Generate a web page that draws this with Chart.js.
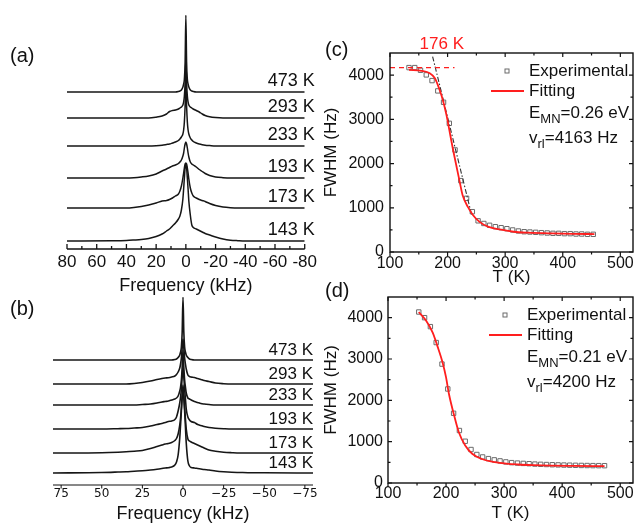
<!DOCTYPE html>
<html>
<head>
<meta charset="utf-8">
<title>NMR linewidth</title>
<script src="https://cdn.jsdelivr.net/npm/chart.js@4.4.0/dist/chart.umd.min.js"></script>
<style>
  body { margin: 0; background: #fff; }
  #wrap { position: relative; width: 638px; height: 525px; overflow: hidden; font-family: "Liberation Sans", Arial, sans-serif; color: #111; }
  canvas { position: absolute; }
  .tag { position: absolute; font-size: 20px; line-height: 20px; }
</style>
</head>
<body>
<div id="wrap">
  <canvas id="chartA" width="320" height="300" style="left:0;top:0"></canvas>
  <canvas id="chartB" width="320" height="235" style="left:0;top:290px"></canvas>
  <canvas id="chartC" width="318" height="290" style="left:320px;top:0"></canvas>
  <canvas id="chartD" width="318" height="245" style="left:320px;top:280px"></canvas>
  <div class="tag" style="left:10px;top:45px">(a)</div>
  <div class="tag" style="left:10px;top:298px">(b)</div>
  <div class="tag" style="left:325px;top:39px">(c)</div>
  <div class="tag" style="left:325px;top:280px">(d)</div>
</div>
<script>
const SANS = "'Liberation Sans', Arial, sans-serif";
const RED = '#ff1e1e';
const INK = '#111';

const freqKHz = [80, 50, 40, 35, 30, 25, 20, 16, 13, 11, 9, 7, 5, 4, 3, 2, 1.5, 1, 0.5, 0,
  -0.5, -1, -1.5, -2, -3, -4, -5, -7, -9, -11, -13, -16, -20, -25, -30, -35, -40, -50, -80];
const tempLabels = ['473 K', '293 K', '233 K', '193 K', '173 K', '143 K'];

// panel (a)
const baseA = [157, 131, 103, 71, 41, 8];
const specA473 = [0,0,0,0,0,0,0,0,0,0,0,0, 0.5,1,2,5,8,13,30,77, 30,13,8,5,2,1,0.5, 0,0,0,0,0,0,0,0,0,0,0,0];
const specA293 = [0,0,0,0,0,0, 0.8,2,4,6.5,7.5,8,9,10,11,13,16,22,35,58, 35,22,16,13,11,10,9,7.5,6,4,2.5,1.2,0.4, 0,0,0,0,0,0];
const specA233 = [0,0,0,0,0,0, 0.3,0.8,1.5,2,3,4,5.5,7,9,12,16,24,40,65, 40,24,16,12,8,6,4.5,3,2,1.3,0.8,0.4, 0,0,0,0,0,0,0];
const specA193 = [0,0,0,0.3,1,2,4,7,9,10.5,12,13,14.5,16,18,22,25,30,34,36, 34,30,25,21,16,14,13,11,8.5,6.5,4.5,2.5,1,0.3, 0,0,0,0,0];
const specA173 = [0,0,0,0.5,1.5,3,5,7,7.5,8.5,10,12,14,17,22,30,35,40,44,45, 44,40,35,29,20,15,12,10,8.5,7.5,6.5,4.5,2.5,1,0.3, 0,0,0,0];
const specA143 = [0,0.3,0.6,1,1.5,2.5,4.5,7,10,12,15,18,22,25,31,42,52,63,73,77, 73,63,52,40,26,16,13.5,12,10.5,9,7.5,6,4,2,0.8,0.3,0,0,0];
const freqTicksA = [80, 60, 40, 20, 0, -20, -40, -60, -80];
const freqMinorA = [70, 50, 30, 10, -10, -30, -50, -70];

// panel (b)
const baseB = [125, 101, 80, 56, 32, 12];
const specB473 = [0,0,0,0,0,0,0,0,0,0,0,0, 0.5,1,2.5,5,8,13,28,63, 28,13,8,5,2.5,1,0.5, 0,0,0,0,0,0,0,0,0,0,0,0];
const specB293 = [0,0,0,0, 0.5,1.5,3,4.5,5.5,6,6.3,7,8,9.5,12,16,20,26,36,45, 36,26,20,15,9,7.5,7,6.5,5.5,4.5,3.5,2.5,1,0.3, 0,0,0,0,0];
const specB233 = [0,0,0,0,0, 0.5,1,2,3,3.5,4,5,6,7,9,14,18,25,38,55, 38,25,18,12,7,6,5,3.5,2.5,1.5,1,0.5, 0,0,0,0,0,0,0];
const specB193 = [0,0,0.3,0.5,1,1.5,3,4.5,5.5,6.5,7.5,8,9.5,12,18,26,32,40,52,62, 52,40,30,20,12,9,7.5,6.5,4.5,3.5,2.5,1.5,0.8,0.3, 0,0,0,0,0];
const specB173 = [0,0.3,0.8,1.2,1.8,2.5,4.5,6.5,8,9,9.5,10.5,12.5,14.5,19,28,35,45,58,68, 58,45,34,24,14,12,11,9.5,8,6.5,5,3,1.8,0.8,0.3, 0,0,0,0];
const specB143 = [0,0.5,1,1.3,1.8,2.2,3,3.8,4.5,5,5.3,6,8,11,18,35,48,62,75,80, 75,62,46,30,12,7,5.5,5,4.5,4,3.5,3,2,1.2,0.7,0.5,0.3,0.2,0];
const freqTicksB = [75, 50, 25, 0, -25, -50, -75];

// panel (c)
const tempC = [133,143,153,163,173,183,193,203,213,223,233,243,253,263,273,283,293,303,313,323,333,343,353,363,373,383,393,403,413,423,433,443,453];
const fwhmC = [4170,4170,4110,4005,3876,3643,3386,2910,2308,1614,1214,912,705,645,604,572,550,527,498,475,459,452,445,437,430,422,422,415,415,407,407,400,400];
const fitTempC = [133,155,169,178,183,190,198,203,209,215,221,226,235,244,255,270,293,315,340,380,420,455];
const fitFwhmC = [4118,4095,4042,3929,3778,3514,3100,2760,2346,1968,1590,1290,1025,837,686,572,505,458,437,420,410,405];
const onsetTempC = [100, 212];
const onsetFwhmC = [4170, 4170];
const tangentTempC = [174, 242];
const tangentFwhmC = [4420, 830];
const paramsC = [['E', 'MN', '=0.26 eV'], ['v', 'rl', '=4163 Hz']];

// panel (d)
const tempD = [153,163,173,183,193,203,213,223,233,243,253,263,273,283,293,303,313,323,333,343,353,363,373,383,393,403,413,423,433,443,453,463,473];
const fwhmD = [4137,4000,3783,3398,2877,2275,1687,1270,1010,810,690,630,590,560,535,510,493,482,474,467,458,452,447,442,438,434,431,428,425,423,421,420,419];
const fitTempD = [153,166,177,185,194,200,205,214,222,233,245,262,284,304,324,350,380,420,473];
const fitFwhmD = [4137,3920,3639,3318,2916,2554,2154,1631,1229,908,708,580,505,468,448,432,420,413,408];
const paramsD = [['E', 'MN', '=0.21 eV'], ['v', 'rl', '=4200 Hz']];

const tempTicks = [100, 200, 300, 400, 500];
const tempMinor = [150, 250, 350, 450];
const fwhmTicks = [0, 1000, 2000, 3000, 4000];
const fwhmMinor = [500, 1500, 2500, 3500];
const legendText = ['Experimental', 'Fitting'];

function pairs(xs, ys) {
  return xs.map((x, i) => ({ x: x, y: ys[i] }));
}

function drawTicks(ctx, scale, values, len, edge, dir, horizontal) {
  ctx.beginPath();
  values.forEach(v => {
    const p = scale.getPixelForValue(v);
    if (horizontal) { ctx.moveTo(p, edge); ctx.lineTo(p, edge + dir * len); }
    else { ctx.moveTo(edge, p); ctx.lineTo(edge + dir * len, p); }
  });
  ctx.stroke();
}

function drawSub(ctx, x, y, parts) {
  ctx.font = '17px ' + SANS;
  ctx.fillText(parts[0], x, y);
  x += ctx.measureText(parts[0]).width;
  ctx.font = '13px ' + SANS;
  ctx.fillText(parts[1], x, y + 6);
  x += ctx.measureText(parts[1]).width;
  ctx.font = '17px ' + SANS;
  ctx.fillText(parts[2], x, y);
}

// stacked spectra, panels (a) and (b)
function spectrumChart(id, spectra, bases, o) {
  const decor = {
    id: 'decor',
    afterDraw(chart) {
      const { ctx, chartArea: a, scales: { x, y } } = chart;
      ctx.save();
      ctx.strokeStyle = INK;
      ctx.lineWidth = o.axisWidth;
      ctx.beginPath();
      ctx.moveTo(a.left, a.bottom);
      ctx.lineTo(a.right, a.bottom);
      ctx.stroke();
      drawTicks(ctx, x, o.major, o.majorLen, a.bottom, o.tickDir, true);
      if (o.minor) drawTicks(ctx, x, o.minor, o.minorLen, a.bottom, o.tickDir, true);
      ctx.fillStyle = INK;
      ctx.font = o.labelSize + 'px ' + SANS;
      ctx.textAlign = 'right';
      ctx.textBaseline = 'middle';
      tempLabels.forEach((t, i) => {
        ctx.fillText(t, a.right + o.labelDx, y.getPixelForValue(bases[i]) - o.labelDy);
      });
      ctx.restore();
    }
  };
  return new Chart(document.getElementById(id), {
    type: 'line',
    data: {
      datasets: spectra.map((vals, i) => ({
        data: freqKHz.map((f, j) => ({ x: f, y: bases[i] + vals[j] })),
        borderColor: '#161616',
        borderWidth: o.lineWidth,
        pointRadius: 0,
        fill: false,
        cubicInterpolationMode: 'monotone'
      }))
    },
    options: {
      responsive: false,
      animation: false,
      events: [],
      layout: { padding: o.padding },
      plugins: { legend: { display: false }, tooltip: { enabled: false } },
      scales: {
        x: {
          type: 'linear', reverse: true, min: -80, max: 80,
          afterBuildTicks: s => { s.ticks = o.major.map(v => ({ value: v })); },
          afterFit: s => { s.height = o.axisHeight; },
          grid: { display: false, drawTicks: false },
          border: { display: false },
          ticks: {
            autoSkip: false, maxRotation: 0, minRotation: 0, padding: o.tickPad, color: INK,
            font: { family: o.tickFamily, size: o.tickSize },
            callback: o.tickFormat
          },
          title: {
            display: true, text: 'Frequency (kHz)', color: INK,
            font: { family: SANS, size: 18 }, padding: { top: 0, bottom: o.titlePad }
          }
        },
        y: { display: false, min: 0, max: o.yMax }
      }
    },
    plugins: [decor]
  });
}

// FWHM versus temperature, panels (c) and (d)
function fwhmChart(id, datasets, params, o) {
  const decor = {
    id: 'decor',
    afterDraw(chart) {
      const { ctx, chartArea: a, scales: { x, y } } = chart;
      ctx.save();
      ctx.strokeStyle = INK;
      ctx.lineWidth = 1.4;
      ctx.strokeRect(a.left, a.top, a.width, a.height);
      ctx.lineWidth = 1.2;
      drawTicks(ctx, x, tempTicks, 4, a.bottom, 1, true);
      drawTicks(ctx, x, tempMinor, 2.5, a.bottom, 1, true);
      drawTicks(ctx, x, tempTicks, 4, a.top, 1, true);
      drawTicks(ctx, x, tempMinor, 2.5, a.top, 1, true);
      drawTicks(ctx, y, fwhmTicks, 4, a.left, 1, false);
      drawTicks(ctx, y, fwhmMinor, 2.5, a.left, 1, false);
      drawTicks(ctx, y, fwhmTicks, 4, a.right, -1, false);
      drawTicks(ctx, y, fwhmMinor, 2.5, a.right, -1, false);

      // legend
      const tx = a.left + 139;
      ctx.strokeStyle = '#6b6b6b';
      ctx.lineWidth = 1;
      ctx.strokeRect(a.left + 115, a.top + 16, 4, 4);
      ctx.strokeStyle = RED;
      ctx.lineWidth = 1.8;
      ctx.beginPath();
      ctx.moveTo(a.left + 101, a.top + 38);
      ctx.lineTo(a.left + 134, a.top + 38);
      ctx.stroke();
      ctx.fillStyle = INK;
      ctx.textAlign = 'left';
      ctx.textBaseline = 'middle';
      ctx.font = '17px ' + SANS;
      ctx.fillText(legendText[0], tx, a.top + 18);
      ctx.fillText(legendText[1], tx, a.top + 38);
      params.forEach((p, i) => drawSub(ctx, tx, a.top + 60 + i * 25, p));

      if (o.note) {
        ctx.fillStyle = RED;
        ctx.textAlign = 'center';
        ctx.font = '17px ' + SANS;
        ctx.fillText(o.note, x.getPixelForValue(o.noteAt), a.top - 9);
      }
      ctx.restore();
    }
  };
  return new Chart(document.getElementById(id), {
    type: 'line',
    data: { datasets: datasets },
    options: {
      responsive: false,
      animation: false,
      events: [],
      layout: { padding: o.padding },
      plugins: { legend: { display: false }, tooltip: { enabled: false } },
      scales: {
        x: {
          type: 'linear', min: 100, max: 522,
          afterBuildTicks: s => { s.ticks = tempTicks.map(v => ({ value: v })); },
          afterFit: s => { s.height = o.xHeight; },
          grid: { display: false, drawTicks: false },
          border: { display: false },
          ticks: { autoSkip: false, maxRotation: 0, minRotation: 0, padding: o.xPad, color: INK,
                   font: { family: SANS, size: 16 }, callback: v => String(v) },
          title: { display: true, text: 'T (K)', color: INK, font: { family: SANS, size: 17 },
                   padding: { top: 0, bottom: o.xTitlePad } }
        },
        y: {
          type: 'linear', min: 0, max: 4500,
          afterBuildTicks: s => { s.ticks = fwhmTicks.map(v => ({ value: v })); },
          afterFit: s => { s.width = o.yWidth; },
          grid: { display: false, drawTicks: false },
          border: { display: false },
          ticks: { autoSkip: false, padding: o.yPad, color: INK,
                   font: { family: SANS, size: 16 }, callback: v => String(v) },
          title: { display: true, text: 'FWHM (Hz)', color: INK, font: { family: SANS, size: 17 },
                   padding: { top: 1, bottom: 0 } }
        }
      }
    },
    plugins: [decor]
  });
}

function expSet(xs, ys) {
  return {
    data: pairs(xs, ys), showLine: false, order: 2,
    pointStyle: 'rect', pointRadius: 3.1, borderWidth: 1,
    borderColor: '#6b6b6b', backgroundColor: 'rgba(0,0,0,0)'
  };
}

function fitSet(xs, ys) {
  return {
    data: pairs(xs, ys), order: 0, borderColor: RED, borderWidth: 1.8,
    pointRadius: 0, fill: false, cubicInterpolationMode: 'monotone'
  };
}

spectrumChart('chartA', [specA473, specA293, specA233, specA193, specA173, specA143], baseA, {
  padding: { left: 67, right: 15, top: 15, bottom: 0 },
  axisHeight: 51, yMax: 234, lineWidth: 1.5, axisWidth: 1.3,
  major: freqTicksA, minor: freqMinorA, majorLen: 5, minorLen: 3, tickDir: -1,
  tickFamily: SANS, tickSize: 17, tickPad: 3, titlePad: 3,
  tickFormat: v => String(v),
  labelSize: 18, labelDx: 10, labelDy: 11
});

spectrumChart('chartB', [specB473, specB293, specB233, specB193, specB173, specB143], baseB, {
  padding: { left: 53, right: 7, top: 7, bottom: 0 },
  axisHeight: 40, yMax: 188, lineWidth: 1.6, axisWidth: 1,
  major: freqTicksB, minor: null, majorLen: 3.5, minorLen: 0, tickDir: 1,
  tickFamily: "'DejaVu Sans', sans-serif", tickSize: 12, tickPad: 2, titlePad: 0,
  tickFormat: v => (v < 0 ? '\u2212' + (-v) : String(v)),
  labelSize: 17, labelDx: 0, labelDy: 10
});

fwhmChart('chartC', [
  expSet(tempC, fwhmC),
  fitSet(fitTempC, fitFwhmC),
  { data: pairs(onsetTempC, onsetFwhmC), order: 1, borderColor: RED, borderWidth: 1.4,
    borderDash: [5, 4], pointRadius: 0, fill: false },
  { data: pairs(tangentTempC, tangentFwhmC), order: 1, borderColor: '#333', borderWidth: 1.1,
    borderDash: [5, 2, 1.5, 2], pointRadius: 0, fill: false }
], paramsC, {
  padding: { left: 0, right: 3, top: 53, bottom: 0 },
  xHeight: 38, yWidth: 70, xPad: 2, yPad: 6, xTitlePad: 2,
  note: '176 K', noteAt: 190
});

fwhmChart('chartD', [
  expSet(tempD, fwhmD),
  fitSet(fitTempD, fitFwhmD)
], paramsD, {
  padding: { left: 0, right: 2, top: 17, bottom: 0 },
  xHeight: 42, yWidth: 68, xPad: 1, yPad: 5, xTitlePad: 1,
  note: null
});
</script>
</body>
</html>
